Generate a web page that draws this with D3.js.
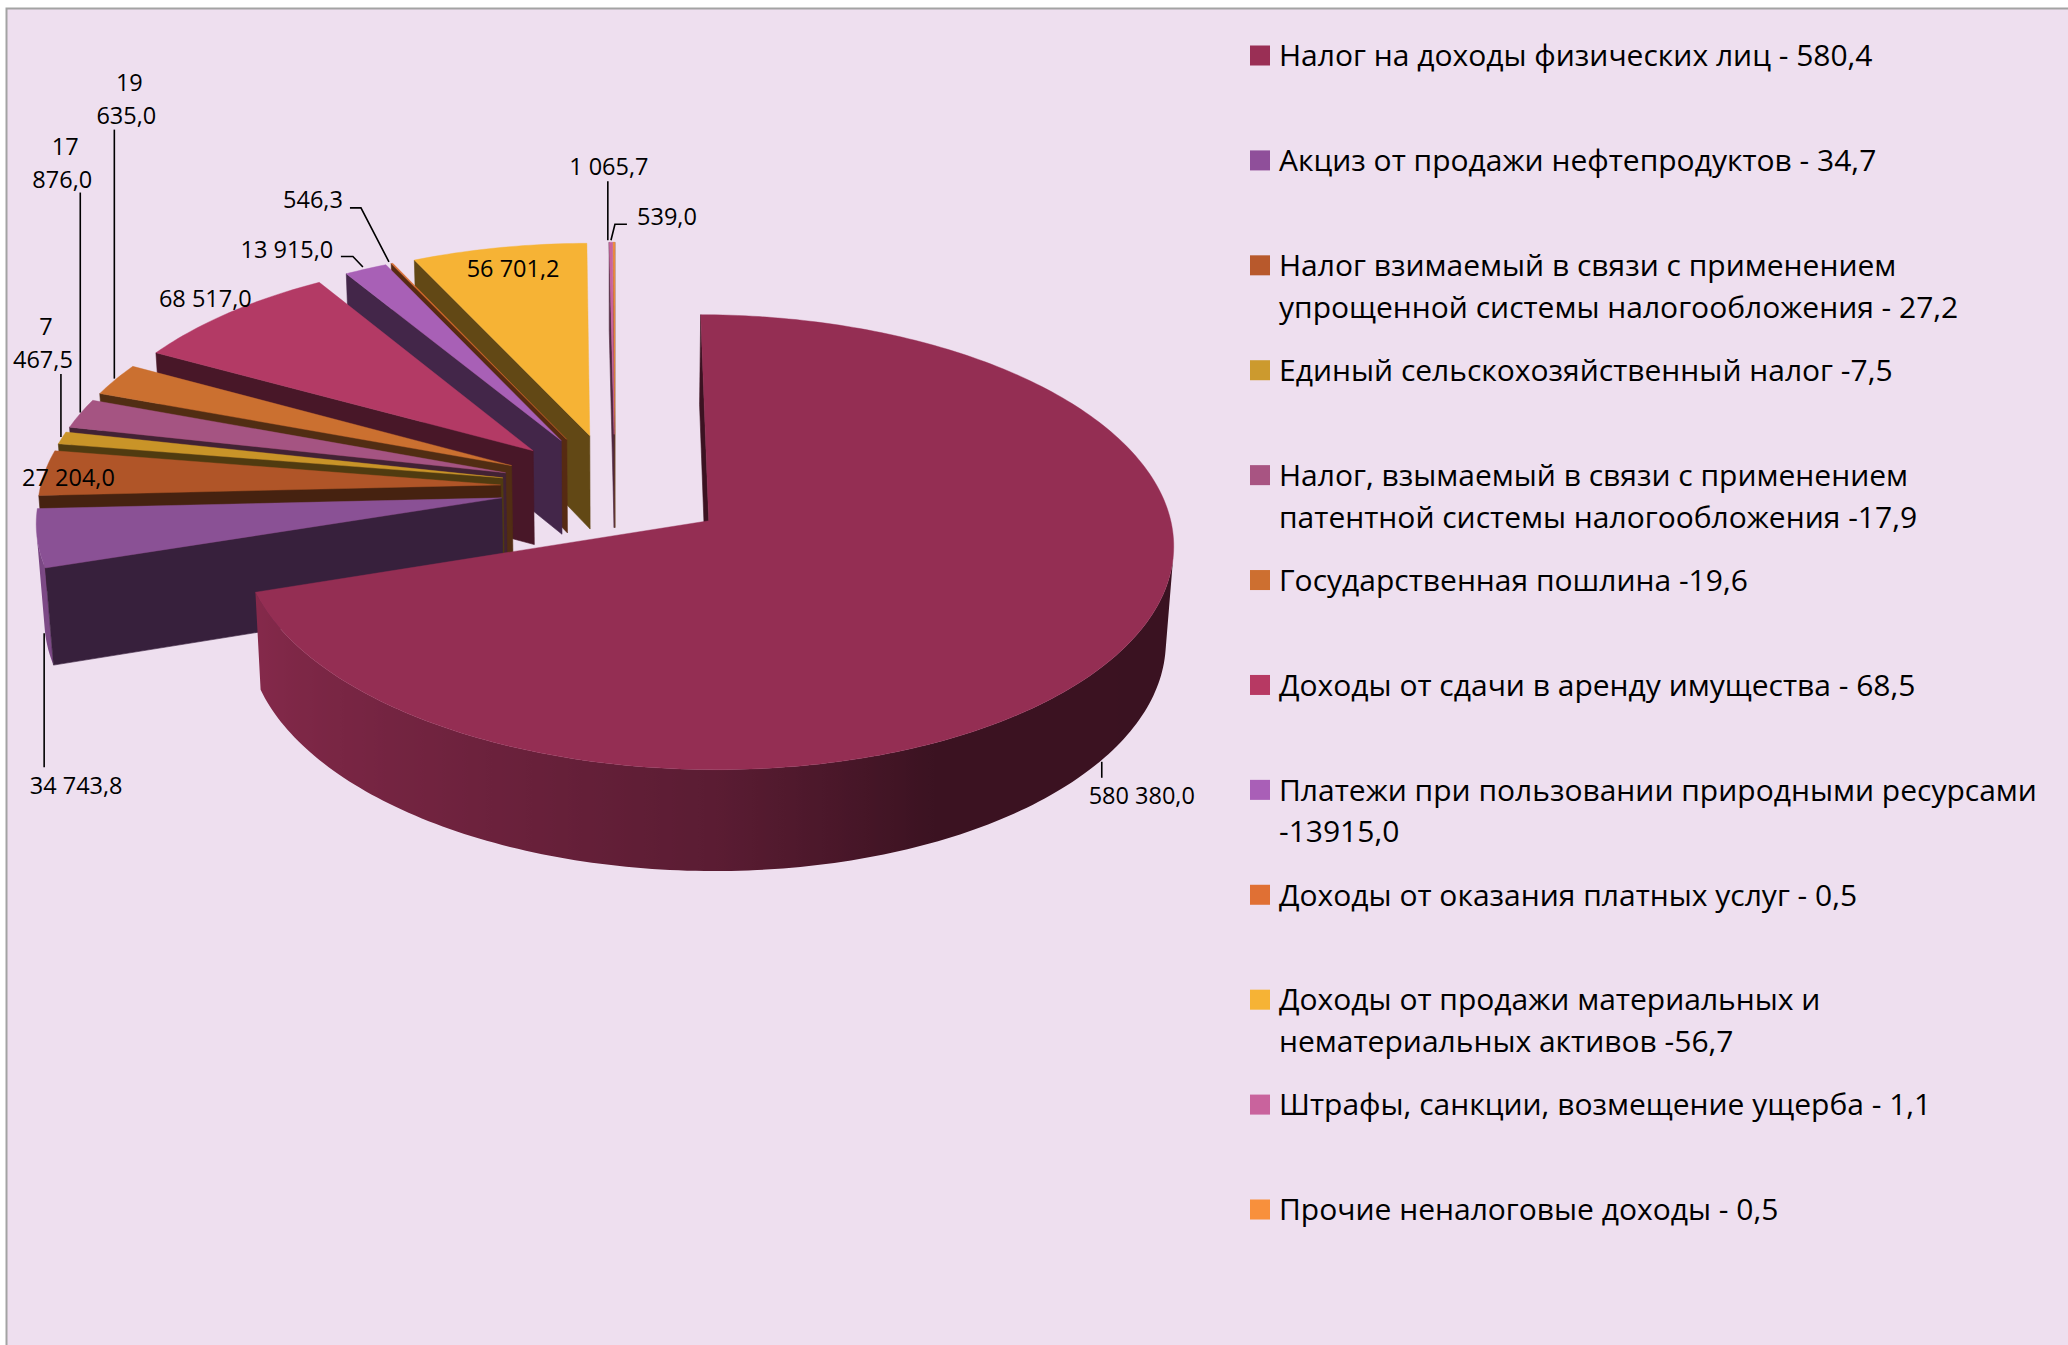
<!DOCTYPE html>
<html lang="ru">
<head>
<meta charset="utf-8">
<script src="https://cdn.jsdelivr.net/npm/d3@7"></script>
<style>
html,body{margin:0;padding:0;background:#fff}
svg{display:block}
text{font-family:"Open Sans",sans-serif;fill:#000}
</style>
</head>
<body>
<svg id="chart" width="2068" height="1345"></svg>
<script>
// ---- data -----
const categories = [
  "Налог на доходы физических лиц - 580,4",
  "Акциз от продажи нефтепродуктов - 34,7",
  "Налог взимаемый в связи с применением\nупрощенной системы налогообложения - 27,2",
  "Единый сельскохозяйственный налог -7,5",
  "Налог, взымаемый в связи с применением\nпатентной системы налогообложения -17,9",
  "Государственная пошлина -19,6",
  "Доходы от сдачи в аренду имущества - 68,5",
  "Платежи при пользовании природными ресурсами\n-13915,0",
  "Доходы от оказания платных услуг - 0,5",
  "Доходы от продажи материальных и\nнематериальных активов -56,7",
  "Штрафы, санкции, возмещение ущерба - 1,1",
  "Прочие неналоговые доходы - 0,5"
];
const values = [580380.0, 34743.8, 27204.0, 7467.5, 17876.0, 19635.0, 68517.0, 13915.0, 546.3, 56701.2, 1065.7, 539.0];
const sliceColors = ["#942e53","#8a5195","#b05528","#c99428","#a55482","#cb7030","#b33a65","#a860b6","#d86a2e","#f6b335","#c9639d","#f8903c"];
const legendColors = ["#9a2f55","#8f4f9a","#b8592c","#cc9a2e","#a85482","#cd6f30","#b73963","#a95fb7","#e07034","#f6b335","#c9639d","#f8903c"];
const wrappedLabels = [3, 4, 5]; // labels whose number wraps at the thousands gap

// ---- layout (offsets are relative to each slice's outer mid-point) -----
const labelOffsets = [
  {text:[32,134], leader:[[-8,101],[-8,117]]},
  {text:[39,247], leader:[[7,95],[7,229]]},
  {text:[24,4]},
  {text:[-19,-79], leader:[[-1,-1],[-1,-64]]},
  {text:[-18,-235], leader:[[0,-1],[0,-221]]},
  {text:[11,-265], leader:[[-1,-1],[-1,-250]]},
  {text:[-24,-15]},
  {text:[-79,-20], leader:[[-3,-2],[-13,-12.5],[-25,-12.5]]},
  {text:[-79,-64], leader:[[-3,-1.5],[-31,-55.5],[-42,-55.5]]},
  {text:[14,20]},
  {text:[-2,-76], leader:[[-3,-2],[-3,-61]]},
  {text:[53,-26], leader:[[-3,-2],[1,-18],[13,-18]]}
];

const bg = "#eedfef", border = "#a3a3a3";
const W = 2068, H = 1345;
const explode = 0.25;
const cam = {cx:615, cy:488, rx:458, ry:219.5, rz:96, p:0.093, q:0.014, s:0.0036};

const svg = d3.select("#chart");
const defs = svg.append("defs");
svg.append("rect").attr("x",6.5).attr("y",8.5).attr("width",W).attr("height",H)
   .attr("fill",bg).attr("stroke",border).attr("stroke-width",2);

function project(X,Y,Z){
  const w = 1 + cam.p*Y + cam.q*Z + cam.s*X;
  return [cam.cx + cam.rx*X/w, cam.cy - (cam.ry*Y - cam.rz*Z)/w];
}
const pie = d3.pie().sort(null).startAngle(0).endAngle(2*Math.PI)(values);

// world point for slice d at fraction r of radius, angle a, depth z
function pt(d,a,r,z){
  const mid = (d.startAngle+d.endAngle)/2;
  return project(explode*Math.sin(mid)+r*Math.sin(a), explode*Math.cos(mid)+r*Math.cos(a), z);
}
// d3.polygonArea is positive for counter-clockwise on screen; faces seen from outside run clockwise
function facing(ps){ return -d3.polygonArea(ps); }
const line = d3.line();
const shade = d3.scaleLinear().domain([90,155,162,180,214,252,270]).range([.39,.40,.46,.61,.76,.90,.82]).clamp(true);

function mix(c,f){ const k=d3.rgb(c); return d3.rgb(k.r*f,k.g*f,k.b*f).formatHex(); }

const gSlices = svg.append("g");
// draw from the back of the chart to the front, the big slice last
const backToFront = d3.range(values.length).reverse();
backToFront.forEach(i=>{
  const d = pie[i], col = sliceColors[i], g = gSlices.append("g");
  const drawFace = (ps,fill)=>{
    if(facing(ps)>0) g.append("path").attr("d",line(ps)+"Z").attr("fill",fill).attr("stroke",fill).attr("stroke-width",.6);
  };
  const rWall = mix(col,.40);
  // outer wall: the strips that face the viewer, merged and shaded left to right
  const n = Math.max(2,Math.ceil((d.endAngle-d.startAngle)/(Math.PI/180)));
  const ang = d3.range(n+1).map(k=>d.startAngle+(d.endAngle-d.startAngle)*k/n);
  const vis = d3.pairs(ang).filter(([a,b])=>facing([pt(d,b,1,0),pt(d,a,1,0),pt(d,a,1,1),pt(d,b,1,1)])>0);
  if(vis.length){
    const as = [vis[0][0]].concat(vis.map(v=>v[1]));
    const poly = as.map(a=>pt(d,a,1,0)).concat(as.slice().reverse().map(a=>pt(d,a,1,1)));
    const xs = as.map(a=>pt(d,a,1,0)[0]);
    const [x0,x1] = d3.extent(xs);
    const off = d3.scaleLinear().domain([x0,x1]).range([0,1]);
    const gid = "wall"+i;
    const grad = defs.append("linearGradient").attr("id",gid).attr("gradientUnits","userSpaceOnUse")
      .attr("x1",x0).attr("x2",x1).attr("y1",0).attr("y2",0);
    d3.range(as.length).map(k=>({x:xs[k],deg:as[k]*180/Math.PI})).sort((p,q)=>p.x-q.x).forEach(s=>{
      grad.append("stop").attr("offset",off(s.x)).attr("stop-color",mix(col,shade(s.deg)));
    });
    g.append("path").attr("d",line(poly)+"Z").attr("fill",`url(#${gid})`);
  }
  // end edge wall, start edge wall
  drawFace([pt(d,0,0,0),pt(d,d.endAngle,1,0),pt(d,d.endAngle,1,1),pt(d,0,0,1)],rWall);
  drawFace([pt(d,d.startAngle,1,0),pt(d,0,0,0),pt(d,0,0,1),pt(d,d.startAngle,1,1)],rWall);
  // top
  const top = [pt(d,0,0,0)].concat(ang.map(a=>pt(d,a,1,0)));
  g.append("path").attr("d",line(top)+"Z").attr("fill",col).attr("stroke",col).attr("stroke-width",.4);
});

// ---- data labels -----
const fmt = d3.formatLocale({decimal:",",thousands:" ",grouping:[3]}).format(",.1f");
const gLabels = svg.append("g");
const labelSize = 23.5;
pie.forEach((d,i)=>{
  const mid=(d.startAngle+d.endAngle)/2;
  const a = pt(d,mid,1,0), o = labelOffsets[i];
  if(o.leader){
    gLabels.append("path").attr("fill","none").attr("stroke","#000").attr("stroke-width",1.6)
      .attr("d",line(o.leader.map(p=>[a[0]+p[0],a[1]+p[1]])));
  }
  const s = fmt(values[i]);
  const lines = wrappedLabels.includes(i) ? s.split(" ") : [s];
  lines.forEach((t,k)=>{
    const dy = (k-(lines.length-1))*33;
    gLabels.append("text").attr("x",a[0]+o.text[0]+(lines.length>1&&k==0?3:0)).attr("y",a[1]+o.text[1]+dy)
      .attr("text-anchor","middle").attr("dominant-baseline","central").attr("font-size",labelSize).text(t);
  });
});

// ---- legend -----
const legendY = d3.scaleLinear().domain([0,11]).range([55.5,1209.5]);
const legend = svg.append("g");
categories.forEach((c,i)=>{
  const y = legendY(i);
  legend.append("rect").attr("x",1250).attr("y",y-10).attr("width",20).attr("height",20).attr("fill",legendColors[i]);
  c.split("\n").forEach((t,k)=>{
    legend.append("text").attr("x",1279).attr("y",y+k*41.6-0.7).attr("dominant-baseline","central")
      .attr("font-size",30).text(t);
  });
});
</script>
</body>
</html>
